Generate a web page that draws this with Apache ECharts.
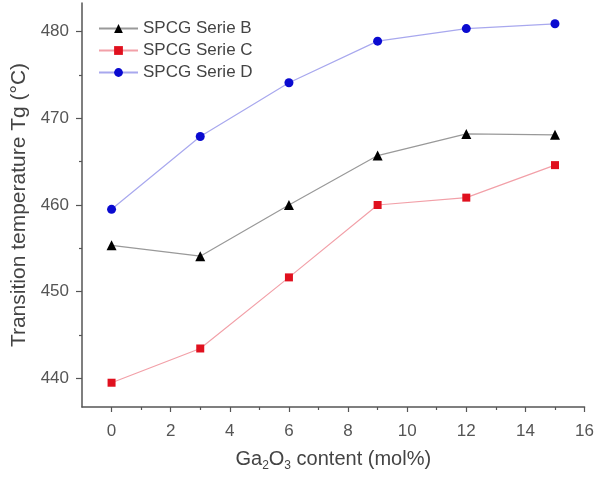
<!DOCTYPE html>
<html>
<head>
<meta charset="utf-8">
<script src="https://cdn.jsdelivr.net/npm/echarts@6/dist/echarts.min.js"></script>
<style>html,body{margin:0;padding:0;background:#fff}#c{width:597px;height:477px}</style>
</head>
<body>
<div id="c"></div>
<script>
var xValues = [0, 3, 6, 9, 12, 15];
var serieB = [455.35, 454.1, 460.0, 465.7, 468.2, 468.1];
var serieC = [439.5, 443.45, 451.65, 460.0, 460.85, 464.6];
var serieD = [459.5, 467.9, 474.1, 478.9, 480.35, 480.9];
var seriesNames = ['SPCG Serie B', 'SPCG Serie C', 'SPCG Serie D'];
var xMajorTicks = [0, 2, 4, 6, 8, 10, 12, 14, 16];
var xMinorTicks = [1, 3, 5, 7, 9, 11, 13, 15];
var yMajorTicks = [440, 450, 460, 470, 480];
var yMinorTicks = [445, 455, 465, 475];

function pairs(ys) { return xValues.map(function (x, i) { return [x, ys[i]]; }); }

var FONT = 'Liberation Sans, Arial, sans-serif';
var AX = '#555';
var XMIN = -1, XMAX = 16, YMIN = 436.7, YMAX = 483.3;

var chart = echarts.init(document.getElementById('c'), null, {renderer: 'canvas'});
chart.setOption({
  animation: false,
  backgroundColor: '#fff',
  grid: {left: 82, right: 12, top: 3, bottom: 65, containLabel: false},
  legend: {
    orient: 'vertical', left: 98, top: 20, padding: 0, itemWidth: 39, itemHeight: 11, itemGap: 5,
    textStyle: {fontFamily: FONT, fontSize: 17, color: '#444', lineHeight: 17},
    data: seriesNames
  },
  xAxis: [{
    type: 'value', min: XMIN, max: XMAX, position: 'bottom', offset: 0,
    name: 'Ga{sub|2}O{sub|3} content (mol%)', nameLocation: 'middle', nameGap: 39,
    nameTextStyle: {fontFamily: FONT, fontSize: 20, color: '#444',
      rich: {sub: {fontFamily: FONT, fontSize: 12, color: '#444', padding: [14, 0, 0, 0]}}},
    axisLine: {show: true, onZero: false, lineStyle: {color: AX, width: 1.5}},
    axisTick: {show: true, length: 5, customValues: xMajorTicks, lineStyle: {color: AX, width: 1.2}},
    axisLabel: {customValues: xMajorTicks, margin: 16, fontFamily: FONT, fontSize: 17, color: '#555'},
    splitLine: {show: false}
  }, {
    type: 'value', min: XMIN, max: XMAX, position: 'bottom', offset: 0,
    axisLine: {show: false, onZero: false},
    axisTick: {show: true, length: 3, customValues: xMinorTicks, lineStyle: {color: AX, width: 1.2}},
    axisLabel: {show: false}, splitLine: {show: false}
  }],
  yAxis: [{
    type: 'value', min: YMIN, max: YMAX, position: 'left', offset: 0,
    name: 'Transition temperature Tg (°C)', nameLocation: 'middle', nameGap: 39,
    nameTextStyle: {fontFamily: FONT, fontSize: 21, color: '#444'},
    axisLine: {show: true, onZero: false, lineStyle: {color: AX, width: 1.5}},
    axisTick: {show: true, length: 6, customValues: yMajorTicks, lineStyle: {color: AX, width: 1.2}},
    axisLabel: {customValues: yMajorTicks, margin: 13, fontFamily: FONT, fontSize: 17, color: '#555'},
    splitLine: {show: false}
  }, {
    type: 'value', min: YMIN, max: YMAX, position: 'left', offset: 0,
    axisLine: {show: false, onZero: false},
    axisTick: {show: true, length: 3, customValues: yMinorTicks, lineStyle: {color: AX, width: 1.2}},
    axisLabel: {show: false}, splitLine: {show: false}
  }],
  series: [{
    name: seriesNames[0], type: 'line', xAxisIndex: 0, yAxisIndex: 0, data: pairs(serieB),
    symbol: 'triangle', symbolSize: 10,
    itemStyle: {color: '#000'}, lineStyle: {color: '#999', width: 1.2}
  }, {
    name: seriesNames[1], type: 'line', xAxisIndex: 0, yAxisIndex: 0, data: pairs(serieC),
    symbol: 'rect', symbolSize: 8,
    itemStyle: {color: '#e0101e'}, lineStyle: {color: '#f2a0a8', width: 1.2}
  }, {
    name: seriesNames[2], type: 'line', xAxisIndex: 0, yAxisIndex: 0, data: pairs(serieD),
    symbol: 'circle', symbolSize: 9,
    itemStyle: {color: '#0a0ad0'}, lineStyle: {color: '#a8a8ee', width: 1.2}
  }]
});
</script>
</body>
</html>
